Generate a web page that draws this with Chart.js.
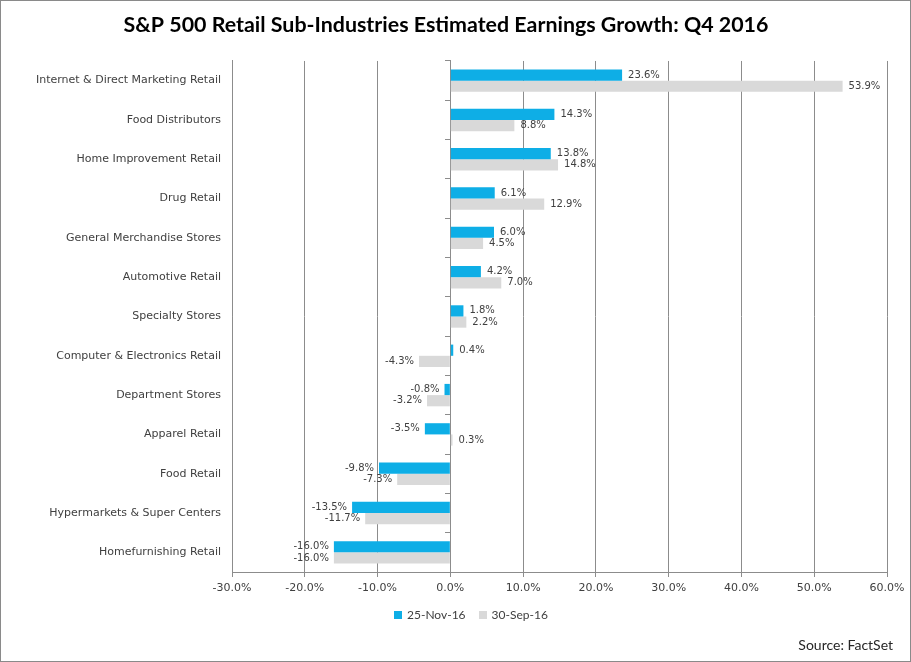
<!DOCTYPE html>
<html>
<head>
<meta charset="utf-8">
<script src="https://cdn.jsdelivr.net/npm/chart.js@4/dist/chart.umd.min.js"></script>
<style>
  body { margin: 0; background: #fff; }
  #wrap { position: relative; width: 911px; height: 662px; }
  #frame { position: absolute; left: 0; top: 0; width: 911px; height: 662px; box-sizing: border-box; border: 1px solid #8a8a8a; pointer-events: none; }
  #legend { position: absolute; left: 394px; top: 607px; font: 12px Lato, sans-serif; color: #404040; display: flex; align-items: center; }
  #legend span.box { display: inline-block; width: 8px; height: 8px; margin-right: 5px; }
  #legend span.item { display: inline-flex; align-items: center; margin-right: 13px; }
  #source { position: absolute; right: 18px; top: 636px; font: 14px Lato, sans-serif; color: #262626; }
</style>
</head>
<body>
<div id="wrap">
  <canvas id="retailChart" width="911" height="662"></canvas>
  <div id="legend"></div>
  <div id="source">Source: FactSet</div>
  <div id="frame"></div>
</div>
<script>
const categories = [
  'Internet & Direct Marketing Retail',
  'Food Distributors',
  'Home Improvement Retail',
  'Drug Retail',
  'General Merchandise Stores',
  'Automotive Retail',
  'Specialty Stores',
  'Computer & Electronics Retail',
  'Department Stores',
  'Apparel Retail',
  'Food Retail',
  'Hypermarkets & Super Centers',
  'Homefurnishing Retail'
];
const seriesNames = ['25-Nov-16', '30-Sep-16'];
const nov25 = [23.6, 14.3, 13.8, 6.1, 6.0, 4.2, 1.8, 0.4, -0.8, -3.5, -9.8, -13.5, -16.0];
const sep30 = [53.9, 8.8, 14.8, 12.9, 4.5, 7.0, 2.2, -4.3, -3.2, 0.3, -7.3, -11.7, -16.0];
const seriesColors = ['#0eaee6', '#d9d9d9'];
const xTicks = [-30, -20, -10, 0, 10, 20, 30, 40, 50, 60];

const gridColor = '#8c8c8c';

// legend (html)
const legendEl = document.getElementById('legend');
seriesNames.forEach((name, i) => {
  const item = document.createElement('span');
  item.className = 'item';
  item.innerHTML = '<span class="box" style="background:' + seriesColors[i] + '"></span>' + name;
  legendEl.appendChild(item);
});

// value labels at bar ends
const barLabels = {
  id: 'barLabels',
  afterDatasetsDraw(chart) {
    const c = chart.ctx;
    c.save();
    c.font = '10px "DejaVu Sans", sans-serif';
    c.fillStyle = '#404040';
    c.textBaseline = 'middle';
    chart.data.datasets.forEach((ds, di) => {
      const meta = chart.getDatasetMeta(di);
      meta.data.forEach((bar, i) => {
        const v = ds.data[i];
        const txt = v.toFixed(1) + '%';
        if (v >= 0) {
          c.textAlign = 'left';
          c.fillText(txt, bar.x + 6, bar.y);
        } else {
          c.textAlign = 'right';
          c.fillText(txt, bar.x - 5, bar.y);
        }
      });
    });
    c.restore();
  }
};

const ctx = document.getElementById('retailChart').getContext('2d');
const retailChart = new Chart(ctx, {
  type: 'bar',
  data: {
    labels: categories,
    datasets: [
      {
        label: seriesNames[0],
        data: nov25,
        backgroundColor: seriesColors[0],
        categoryPercentage: 0.57,
        barPercentage: 1
      },
      {
        label: seriesNames[1],
        data: sep30,
        backgroundColor: seriesColors[1],
        categoryPercentage: 0.57,
        barPercentage: 1
      }
    ]
  },
  options: {
    indexAxis: 'y',
    responsive: false,
    animation: false,
    layout: { padding: { left: 5, right: 24, top: 0, bottom: 60 } },
    scales: {
      x: {
        min: -30,
        max: 60,
        afterBuildTicks: (scale) => { scale.ticks = xTicks.map(v => ({ value: v })); },
        afterFit: (scale) => { scale.height = 30; },
        grid: { color: gridColor, tickLength: 5 },
        border: { color: gridColor },
        ticks: {
          padding: 5,
          color: '#404040',
          font: { family: '"DejaVu Sans", sans-serif', size: 11 },
          callback: (v) => v.toFixed(1) + '%'
        }
      },
      y: {
        afterFit: (scale) => { scale.width = 227; },
        grid: { display: false, drawTicks: false },
        border: { color: gridColor },
        ticks: {
          autoSkip: false,
          padding: 11,
          color: '#404040',
          font: { family: '"DejaVu Sans", sans-serif', size: 11 }
        }
      },
      y2: {
        type: 'category',
        labels: categories,
        position: { x: 0 },
        offset: true,
        grid: { offset: true, drawOnChartArea: false, tickLength: 5, color: gridColor },
        border: { color: gridColor },
        ticks: { display: false }
      }
    },
    plugins: {
      legend: { display: false },
      tooltip: { enabled: false },
      title: {
        display: true,
        text: 'S&P 500 Retail Sub-Industries Estimated Earnings Growth: Q4 2016',
        color: '#000',
        font: { family: 'Lato, sans-serif', size: 21.4, weight: 'bold', lineHeight: 1.2 },
        padding: { top: 12, bottom: 23.3 }
      }
    }
  },
  plugins: [barLabels]
});
</script>
</body>
</html>
